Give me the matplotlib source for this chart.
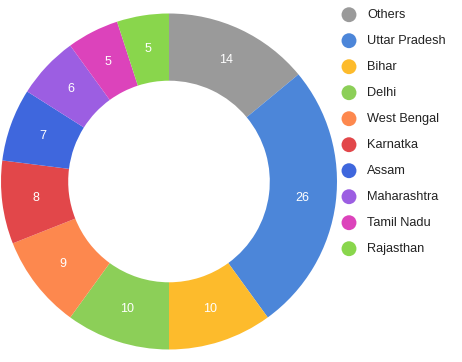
import matplotlib.pyplot as plt

states = ['Others', 'Uttar Pradesh', 'Bihar', 'Delhi', 'West Bengal',
          'Karnatka', 'Assam', 'Maharashtra', 'Tamil Nadu', 'Rajasthan']
values = [14, 26, 10, 10, 9, 8, 7, 6, 5, 5]
colors = ['#9a9a9a', '#4c86d9', '#fdbb2c', '#8ccf58', '#fd884e',
          '#e2474a', '#3f67dd', '#9c5ee2', '#dc43bb', '#89d64c']

plt.rcParams['font.family'] = ['Liberation Sans', 'DejaVu Sans']

fig = plt.figure(figsize=(4.62, 3.62), dpi=100)

# donut
ax = fig.add_axes([1 / 462, 12.5 / 362, 336 / 462, 336 / 362])
total = sum(values)
wedges, texts, autotexts = ax.pie(
    values, colors=colors, startangle=90, counterclock=False,
    radius=1, wedgeprops=dict(width=0.4, linewidth=0),
    autopct=lambda p: f'{p * total / 100:.0f}', pctdistance=0.8,
    textprops=dict(color='white', fontsize=9))
ax.set_xlim(-1, 1)
ax.set_ylim(-1, 1)
ax.set_aspect('equal')
ax.axis('off')

# legend drawn by hand
lax = fig.add_axes([0, 0, 1, 1])
lax.set_xlim(0, 462)
lax.set_ylim(362, 0)
lax.axis('off')
for i, (name, c) in enumerate(zip(states, colors)):
    y = 14.7 + i * 26
    lax.scatter(349, y, s=115, color=c, edgecolors='none')
    lax.text(367, y, name, fontsize=9.2, color='#222222', va='center', ha='left')

plt.savefig('out.png', dpi=100)
